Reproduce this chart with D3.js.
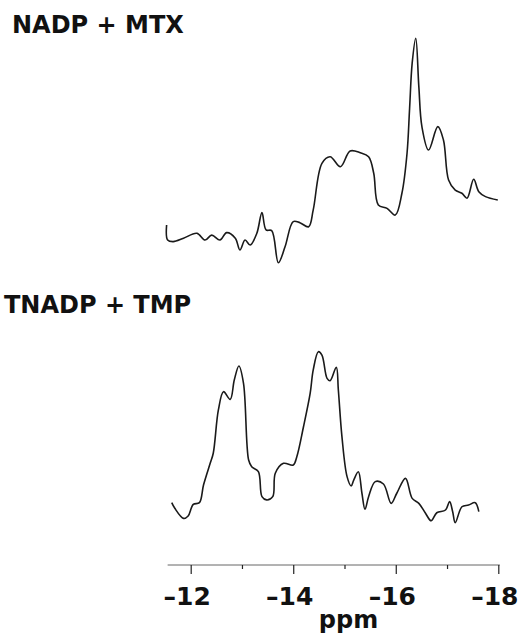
<!DOCTYPE html>
<html>
<head>
<meta charset="utf-8">
<script src="https://cdn.jsdelivr.net/npm/d3@7"></script>
<style>
  body { margin: 0; background: #fff; }
  svg text { font-family: "DejaVu Sans", sans-serif; font-weight: bold; fill: #111; }
</style>
</head>
<body>
<svg id="chart" width="519" height="640"></svg>
<script>
// chemical shift (ppm) and intensity (arbitrary units)
var mtxPpm = [-11.53, -11.55, -11.66, -11.86, -12.12, -12.28, -12.41, -12.57, -12.70, -12.87,
  -12.96, -13.06, -13.16, -13.29, -13.39, -13.47, -13.58, -13.71, -13.84, -14.00,
  -14.13, -14.30, -14.39, -14.56, -14.72, -14.92, -15.11, -15.31, -15.47, -15.57,
  -15.66, -15.83, -15.99, -16.12, -16.22, -16.27, -16.32, -16.39, -16.45, -16.51,
  -16.64, -16.82, -16.93, -17.03, -17.16, -17.29, -17.39, -17.52, -17.62, -17.75, -17.99];
var mtxInt = [16.9, 10.2, 9.5, 11.0, 13.2, 10.2, 12.4, 10.2, 13.5, 11.0,
  5.8, 10.2, 8.0, 13.2, 22.4, 14.7, 14.4, 0.1, 7.2, 18.4,
  17.9, 16.1, 23.6, 44.3, 47.2, 42.8, 49.8, 49.0, 47.2, 39.9,
  25.8, 24.3, 21.3, 31.0, 48.8, 68.8, 88.8, 99.9, 78.4, 60.6,
  50.2, 60.6, 54.7, 36.9, 32.4, 31.0, 28.8, 37.2, 31.7, 29.5, 28.0];

var tmpPpm = [-11.63, -11.69, -11.86, -11.95, -12.05, -12.17, -12.25, -12.38, -12.44, -12.54,
  -12.64, -12.77, -12.85, -12.94, -13.03, -13.13, -13.19, -13.32, -13.39, -13.48,
  -13.60, -13.65, -13.81, -14.00, -14.07, -14.20, -14.33, -14.39, -14.49, -14.56,
  -14.66, -14.72, -14.84, -14.88, -14.95, -15.05, -15.13, -15.18, -15.27, -15.34,
  -15.40, -15.47, -15.60, -15.76, -15.91, -16.02, -16.19, -16.32, -16.45, -16.58,
  -16.69, -16.80, -16.97, -17.05, -17.11, -17.16, -17.29, -17.42, -17.55, -17.62];
var tmpInt = [11.9, 8.6, 2.7, 4.1, 10.9, 11.9, 22.2, 34.9, 40.8, 66.1,
  76.8, 72.3, 83.6, 91.8, 81.7, 36.8, 32.9, 30.0, 15.4, 13.5,
  15.4, 29.1, 34.9, 33.9, 38.8, 56.3, 75.8, 89.5, 100.2, 98.2,
  84.6, 83.2, 91.1, 77.8, 50.5, 27.1, 21.6, 25.1, 30.0, 17.4,
  8.0, 15.4, 24.2, 22.8, 11.5, 17.4, 26.1, 14.4, 11.5, 5.7,
  1.3, 6.0, 7.6, 12.5, 6.6, 0.2, 9.5, 10.5, 11.9, 6.6];

var titles = ["NADP + MTX", "TNADP + TMP"];
var majorTicks = [-12, -14, -16, -18];
var minorTicks = [-13, -15, -17];
var axisLabel = "ppm";

var svg = d3.select("#chart");

// shared ppm scale, high field to the right
var x = d3.scaleLinear().domain([-12, -18]).range([190.7, 498.3]);

// each panel gets its own vertical scale
var yTop = d3.scaleLinear().domain([0, 100]).range([263, 38]);
var yBot = d3.scaleLinear().domain([0, 100]).range([523, 352]);

function trace(ppm, inten, y) {
    var pts = ppm.map(function(p, i) { return [p, inten[i]]; });
    var line = d3.line()
        .x(function(d) { return x(d[0]); })
        .y(function(d) { return y(d[1]); })
        .curve(d3.curveCatmullRom.alpha(0.5));
    svg.append("path")
        .datum(pts)
        .attr("d", line)
        .attr("fill", "none")
        .attr("stroke", "#1a1a1a")
        .attr("stroke-width", 1.6)
        .attr("stroke-linejoin", "round");
}

trace(mtxPpm, mtxInt, yTop);
trace(tmpPpm, tmpInt, yBot);

// panel titles
svg.append("text").attr("x", 12).attr("y", 33)
    .style("font-size", "24px").text(titles[0]);
svg.append("text").attr("x", 4).attr("y", 313)
    .style("font-size", "24px").text(titles[1]);

// axis: drawn line a little wider than the tick range
var axisY = 565;
svg.append("line")
    .attr("x1", x(-11.55)).attr("x2", x(-18.03))
    .attr("y1", axisY).attr("y2", axisY)
    .attr("stroke", "#666").attr("stroke-width", 1);

var gMajor = svg.append("g").attr("transform", "translate(0," + axisY + ")")
    .call(d3.axisBottom(x).tickValues(majorTicks).tickSize(9)
        .tickFormat(function(d) { return "\u2013" + Math.abs(d); }));
gMajor.select(".domain").remove();
gMajor.selectAll(".tick line").attr("stroke", "#222").attr("stroke-width", 1.2);
gMajor.selectAll(".tick text")
    .attr("y", 22).attr("dx", -4)
    .style("font-size", "25px").style("font-family", "DejaVu Sans, sans-serif")
    .attr("fill", "#111");

var gMinor = svg.append("g").attr("transform", "translate(0," + axisY + ")")
    .call(d3.axisBottom(x).tickValues(minorTicks).tickSize(4).tickFormat(""));
gMinor.select(".domain").remove();
gMinor.selectAll(".tick line").attr("stroke", "#222").attr("stroke-width", 1.2);

svg.append("text").attr("x", x(-15) + 4).attr("y", 628)
    .attr("text-anchor", "middle")
    .style("font-size", "24px").text(axisLabel);
</script>
</body>
</html>
